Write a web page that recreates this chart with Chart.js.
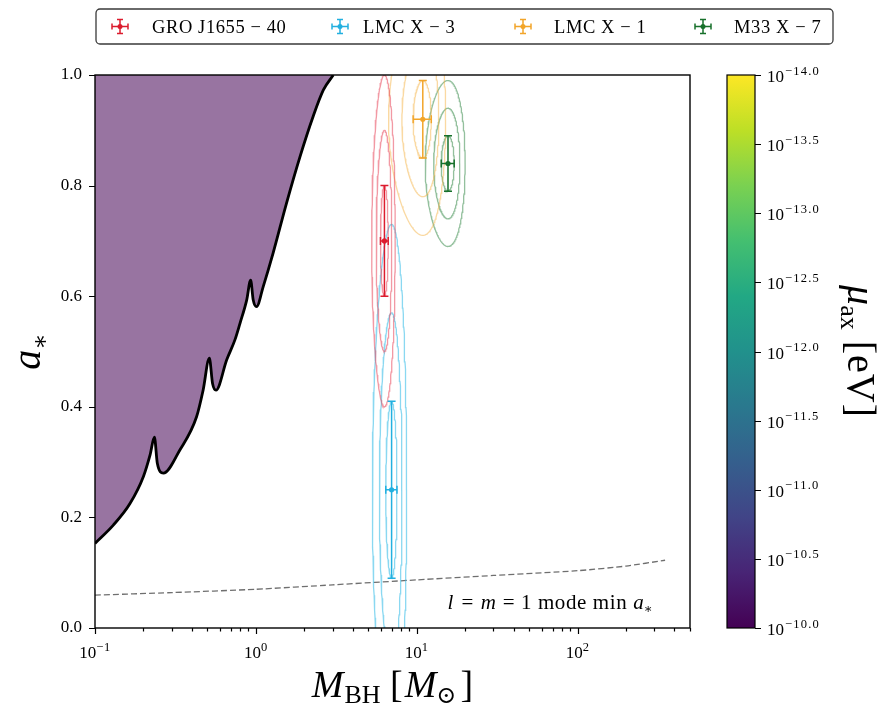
<!DOCTYPE html>
<html>
<head>
<meta charset="utf-8">
<script src="https://cdn.jsdelivr.net/npm/chart.js@4.4.1/dist/chart.umd.min.js"></script>
<style>
  html, body { margin: 0; padding: 0; background: #ffffff; }
  canvas { display: block; }
</style>
</head>
<body>
<canvas id="chart" width="892" height="708"></canvas>
<script>
// ---- Superradiance exclusion boundary (BH mass in solar masses vs. spin a*) ----
const boundaryMass = [0.1, 0.13, 0.165, 0.2, 0.22, 0.234, 0.244, 0.266, 0.337, 0.428, 0.47, 0.514, 0.538, 0.565,
                      0.659, 0.741, 0.797, 0.877, 0.928, 0.963, 1.01, 1.11, 1.28, 1.55, 1.88, 2.27, 2.63, 3.03];
const boundarySpin = [0.153, 0.186, 0.225, 0.274, 0.313, 0.345, 0.298, 0.280, 0.322, 0.382, 0.430, 0.488, 0.442, 0.430,
                      0.485, 0.521, 0.551, 0.593, 0.629, 0.593, 0.581, 0.617, 0.678, 0.768, 0.852, 0.925, 0.973, 1.0];

// ---- l = m = 1 mode minimum spin ----
const modeMass = [0.1, 0.3, 1, 3, 10, 30, 100, 200, 350];
const modeSpin = [0.0595, 0.064, 0.070, 0.078, 0.087, 0.095, 0.1036, 0.112, 0.1225];

// ---- X-ray binary measurements ----
const sourceNames   = ['GRO J1655 \u2212 40', 'LMC X \u2212 3', 'LMC X \u2212 1', 'M33 X \u2212 7'];
const sourceMass    = [6.3, 6.98, 10.91, 15.65];
const sourceMassErr = [0.35, 0.56, 1.41, 1.45];
const sourceSpin    = [0.70, 0.25, 0.92, 0.84];
const sourceSpinErr = [0.10, 0.16, 0.07, 0.05];
const sourceColors  = ['#dc1c2e', '#22b0e0', '#f2a52a', '#17702b'];
const sourceContourColors = ['rgba(232,70,90,0.55)', 'rgba(60,190,232,0.6)', 'rgba(246,180,70,0.5)', 'rgba(40,130,60,0.5)'];
const contourLevels = [1, 2, 3];

// ---- Tick labels ----
const xMajorTicks = [0.1, 1, 10, 100];
const xMajorExponents = ['\u22121', '0', '1', '2'];
const yTicks = [0, 0.2, 0.4, 0.6, 0.8, 1.0];
const cbarTicks = [-14, -13.5, -13, -12.5, -12, -11.5, -11, -10.5, -10];
const viridisStops = ['#440154', '#482475', '#414487', '#355f8d', '#2a788e', '#21918c',
                      '#22a884', '#44bf70', '#7ad151', '#bddf26', '#fde725'];

const SERIF = '"Liberation Serif", "DejaVu Serif", serif';

// confidence ellipse of a source at k standard deviations
function ellipse(i, k) {
  const pts = [];
  const n = 200;
  for (let j = 0; j <= n; j++) {
    const t = (j / n) * 2 * Math.PI;
    pts.push({ x: sourceMass[i] + k * sourceMassErr[i] * Math.cos(t),
               y: sourceSpin[i] + k * sourceSpinErr[i] * Math.sin(t) });
  }
  return pts;
}

function fontOf(p) {
  return (p.italic ? 'italic ' : '') + p.size + 'px ' + SERIF;
}
function drawRich(ctx, parts, x, y, align) {
  let w = 0;
  parts.forEach(p => {
    ctx.font = fontOf(p);
    ctx.letterSpacing = (p.ls || 0) + 'px';
    p.w = ctx.measureText(p.t).width + (p.gap || 0);
    w += p.w;
  });
  let cx = align === 'center' ? x - w / 2 : (align === 'right' ? x - w : x);
  ctx.textAlign = 'left';
  ctx.textBaseline = 'alphabetic';
  parts.forEach(p => {
    ctx.font = fontOf(p);
    ctx.letterSpacing = (p.ls || 0) + 'px';
    ctx.fillText(p.t, cx, y + (p.dy || 0));
    cx += p.w;
  });
  ctx.letterSpacing = '0px';
}

const datasets = [];
datasets.push({
  label: 'boundary',
  data: boundaryMass.map((m, i) => ({ x: m, y: boundarySpin[i] })),
  showLine: true,
  borderColor: '#000000',
  borderWidth: 2.8,
  backgroundColor: 'rgba(68,1,84,0.55)',
  fill: 'end',
  pointRadius: 0,
  cubicInterpolationMode: 'monotone',
  order: 10,
  clip: 0
});
datasets.push({
  label: 'mode',
  data: modeMass.map((m, i) => ({ x: m, y: modeSpin[i] })),
  showLine: true,
  borderColor: 'rgba(95,95,95,0.9)',
  borderWidth: 1.3,
  borderDash: [6, 3],
  pointRadius: 0,
  tension: 0.2,
  fill: false,
  order: 9,
  clip: 0
});
sourceNames.forEach((name, i) => {
  contourLevels.forEach(k => {
    datasets.push({
      label: name + ' ' + k,
      data: ellipse(i, k),
      showLine: true,
      borderColor: sourceContourColors[i],
      borderWidth: 1.3,
      pointRadius: 0,
      fill: false,
      tension: 0,
      order: 5,
      clip: 0
    });
  });
});
datasets.push({
  label: 'sources',
  data: sourceMass.map((m, i) => ({ x: m, y: sourceSpin[i] })),
  pointRadius: 2.6,
  pointBackgroundColor: sourceColors,
  pointBorderWidth: 0,
  showLine: false,
  order: 1,
  clip: 0
});

function drawErrorGlyph(ctx, x, y, color, hw, hh, cap) {
  ctx.strokeStyle = color;
  ctx.lineWidth = 1.5;
  ctx.beginPath();
  ctx.moveTo(x - hw, y); ctx.lineTo(x + hw, y);
  ctx.moveTo(x - hw, y - cap); ctx.lineTo(x - hw, y + cap);
  ctx.moveTo(x + hw, y - cap); ctx.lineTo(x + hw, y + cap);
  ctx.moveTo(x, y - hh); ctx.lineTo(x, y + hh);
  ctx.moveTo(x - cap, y - hh); ctx.lineTo(x + cap, y - hh);
  ctx.moveTo(x - cap, y + hh); ctx.lineTo(x + cap, y + hh);
  ctx.stroke();
  ctx.fillStyle = color;
  ctx.beginPath();
  ctx.arc(x, y, 2.5, 0, 2 * Math.PI);
  ctx.fill();
}

const decorations = {
  id: 'decorations',
  afterDatasetsDraw(chart) {
    const ctx = chart.ctx;
    const xs = chart.scales.x, ys = chart.scales.y;
    const area = chart.chartArea;
    ctx.save();
    ctx.beginPath();
    ctx.rect(area.left, area.top, area.right - area.left, area.bottom - area.top);
    ctx.clip();
    sourceMass.forEach((m, i) => {
      const px = xs.getPixelForValue(m), py = ys.getPixelForValue(sourceSpin[i]);
      const x0 = xs.getPixelForValue(m - sourceMassErr[i]), x1 = xs.getPixelForValue(m + sourceMassErr[i]);
      const y0 = ys.getPixelForValue(sourceSpin[i] - sourceSpinErr[i]), y1 = ys.getPixelForValue(sourceSpin[i] + sourceSpinErr[i]);
      ctx.strokeStyle = sourceColors[i];
      ctx.lineWidth = 1.5;
      const cap = 4;
      ctx.beginPath();
      ctx.moveTo(x0, py); ctx.lineTo(x1, py);
      ctx.moveTo(x0, py - cap); ctx.lineTo(x0, py + cap);
      ctx.moveTo(x1, py - cap); ctx.lineTo(x1, py + cap);
      ctx.moveTo(px, y0); ctx.lineTo(px, y1);
      ctx.moveTo(px - cap, y0); ctx.lineTo(px + cap, y0);
      ctx.moveTo(px - cap, y1); ctx.lineTo(px + cap, y1);
      ctx.stroke();
    });
    ctx.restore();
  },
  afterDraw(chart) {
    const ctx = chart.ctx;
    const xs = chart.scales.x, ys = chart.scales.y, cs = chart.scales.cbar;
    const area = chart.chartArea;
    ctx.save();
    ctx.fillStyle = '#000';
    ctx.strokeStyle = '#000';

    // annotation
    drawRich(ctx, [
      { t: 'l', size: 21, italic: true, gap: 2 }, { t: ' = ', size: 21, ls: 1 }, { t: 'm', size: 21, italic: true, gap: 1 },
      { t: ' = 1 mode min ', size: 21, ls: 0.6 }, { t: 'a', size: 21, italic: true }, { t: '\u2217', size: 13, dy: 4 }
    ], 550, 609, 'center');

    // frame
    ctx.lineWidth = 1.4;
    ctx.strokeRect(area.left, area.top, area.right - area.left, area.bottom - area.top);

    // x ticks (major + minor, log)
    ctx.lineWidth = 1.2;
    ctx.beginPath();
    for (let e = -1; e <= 2; e++) {
      for (let k = 1; k <= 9; k++) {
        const v = k * Math.pow(10, e);
        if (v < xs.min * 0.999 || v > xs.max * 1.001) continue;
        const px = Math.round(xs.getPixelForValue(v)) + 0.5;
        const len = k === 1 ? 6 : 3.5;
        ctx.moveTo(px, area.bottom); ctx.lineTo(px, area.bottom + len);
      }
    }
    // y ticks
    yTicks.forEach(v => {
      const py = Math.round(ys.getPixelForValue(v)) + 0.5;
      ctx.moveTo(area.left, py); ctx.lineTo(area.left - 6, py);
    });
    ctx.stroke();

    // x tick labels
    xMajorTicks.forEach((v, i) => {
      drawRich(ctx, [{ t: '10', size: 17 }, { t: xMajorExponents[i], size: 12.5, dy: -7.5, ls: 0.5 }],
               xs.getPixelForValue(v), 658, 'center');
    });

    // axis titles
    drawRich(ctx, [
      { t: 'M', size: 38, italic: true, gap: 1 }, { t: 'BH', size: 26, dy: 6 }, { t: ' [', size: 38, gap: 2 },
      { t: 'M', size: 38, italic: true }, { t: '\u2299', size: 24, dy: 6, gap: 4 }, { t: ']', size: 38 }
    ], (area.left + area.right) / 2, 697, 'center');

    ctx.save();
    ctx.translate(40, (area.top + area.bottom) / 2);
    ctx.rotate(-Math.PI / 2);
    drawRich(ctx, [{ t: 'a', size: 40, italic: true }, { t: '\u2217', size: 24, dy: 8 }], 0, 0, 'center');
    ctx.restore();

    // colorbar
    const cbLeft = 727, cbRight = 755;
    const yTop = cs.getPixelForValue(-14), yBot = cs.getPixelForValue(-10);
    const grad = ctx.createLinearGradient(0, yBot, 0, yTop);
    viridisStops.forEach((c, i) => grad.addColorStop(i / (viridisStops.length - 1), c));
    ctx.fillStyle = grad;
    ctx.fillRect(cbLeft, yTop, cbRight - cbLeft, yBot - yTop);
    ctx.lineWidth = 1.2;
    ctx.strokeStyle = '#000';
    ctx.strokeRect(cbLeft, yTop, cbRight - cbLeft, yBot - yTop);
    ctx.beginPath();
    cbarTicks.forEach(v => {
      const py = Math.round(cs.getPixelForValue(v)) + 0.5;
      ctx.moveTo(cbRight, py); ctx.lineTo(cbRight + 6, py);
    });
    ctx.stroke();
    ctx.fillStyle = '#000';
    cbarTicks.forEach(v => {
      const py = cs.getPixelForValue(v);
      drawRich(ctx, [{ t: '10', size: 17, gap: 1 }, { t: '\u2212' + Math.abs(v).toFixed(1), size: 12.5, dy: -7.5, ls: 1.2 }],
               767, py + 7, 'left');
    });
    ctx.save();
    ctx.translate(848, (yTop + yBot) / 2);
    ctx.rotate(Math.PI / 2);
    drawRich(ctx, [{ t: '\u03bc', size: 40, italic: true }, { t: 'ax', size: 26, dy: 7 }, { t: ' [eV]', size: 40, ls: 1 }],
             0, 0, 'center');
    ctx.restore();

    // legend
    const lx = 96, ly = 9, lw = 737, lh = 35, r = 4;
    ctx.beginPath();
    ctx.moveTo(lx + r, ly);
    ctx.arcTo(lx + lw, ly, lx + lw, ly + lh, r);
    ctx.arcTo(lx + lw, ly + lh, lx, ly + lh, r);
    ctx.arcTo(lx, ly + lh, lx, ly, r);
    ctx.arcTo(lx, ly, lx + lw, ly, r);
    ctx.closePath();
    ctx.fillStyle = '#ffffff';
    ctx.fill();
    ctx.strokeStyle = '#3a3a3a';
    ctx.lineWidth = 1.3;
    ctx.stroke();
    const markerX = [120, 340, 523, 703];
    const textX = [152, 363, 554, 734];
    sourceNames.forEach((name, i) => {
      drawErrorGlyph(ctx, markerX[i], 26.5, sourceColors[i], 8, 7, 3);
      ctx.fillStyle = '#000';
      drawRich(ctx, [{ t: name, size: 18.5, ls: 0.6 }], textX[i], 32.5, 'left');
    });
    ctx.restore();
  }
};

new Chart(document.getElementById('chart'), {
  type: 'scatter',
  data: { datasets },
  plugins: [decorations],
  options: {
    responsive: false,
    animation: false,
    devicePixelRatio: 1,
    layout: { padding: { top: 75, left: 0, right: 0, bottom: 0 } },
    plugins: { legend: { display: false }, tooltip: { enabled: false }, title: { display: false } },
    scales: {
      x: {
        type: 'logarithmic',
        position: 'bottom',
        min: 0.1,
        max: 500,
        afterFit: s => { s.height = 80; },
        ticks: { display: false },
        grid: { display: false, drawTicks: false },
        border: { display: false }
      },
      y: {
        type: 'linear',
        position: 'left',
        min: 0,
        max: 1,
        afterFit: s => { s.width = 95; },
        afterBuildTicks: s => { s.ticks = yTicks.map(v => ({ value: v })); },
        ticks: {
          callback: v => Number(v).toFixed(1),
          font: { family: SERIF, size: 17 },
          color: '#000',
          padding: 13
        },
        grid: { display: false, drawTicks: false },
        border: { display: false }
      },
      cbar: {
        type: 'linear',
        position: 'right',
        min: -14,
        max: -10,
        reverse: true,
        afterFit: s => { s.width = 202; },
        ticks: { display: false },
        grid: { display: false, drawTicks: false },
        border: { display: false }
      }
    }
  }
});
</script>
</body>
</html>
